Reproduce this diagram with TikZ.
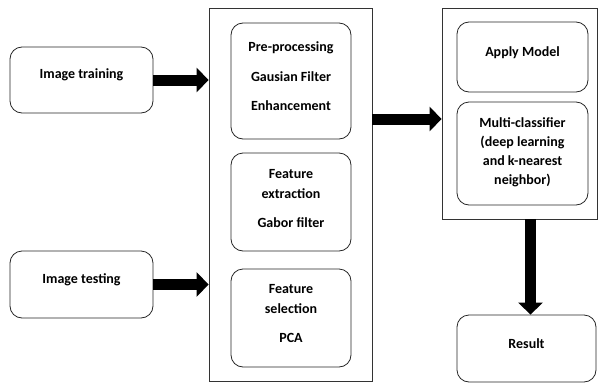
\documentclass[tikz,border=0pt]{standalone}
\usepackage{fontspec}
\setmainfont{Carlito}
\usetikzlibrary{arrows.meta}
\begin{document}
\begin{tikzpicture}[x=1pt,y=-1pt,
  rbox/.style={draw=black!85,line width=0.8pt,rounded corners=12pt,inner sep=0pt},
  cont/.style={draw=black!80,line width=0.8pt,inner sep=0pt},
  lbl/.style={font=\fontsize{14}{16}\selectfont\bfseries,inner sep=0pt,anchor=center},
  bigarrow/.style={line width=11pt,-{Triangle[length=12pt,width=24pt]}}
]
\useasboundingbox (0,0) rectangle (598,383);
% left boxes
\node[rbox,minimum width=143pt,minimum height=66pt] (train) at (81.5,80) {};
\node[rbox,minimum width=143pt,minimum height=67pt] (test) at (81.5,284.5) {};
% middle container
\node[cont,minimum width=163pt,minimum height=373pt] (mid) at (290.5,194.5) {};
\node[rbox,minimum width=120pt,minimum height=116pt] (pre) at (291,81) {};
\node[rbox,minimum width=120pt,minimum height=98pt] (fext) at (291,202) {};
\node[rbox,minimum width=120pt,minimum height=98pt] (fsel) at (291,318) {};
% right container
\node[cont,minimum width=155pt,minimum height=211pt] (right) at (519.5,113.5) {};
\node[rbox,minimum width=131pt,minimum height=70pt] (apply) at (522.5,57) {};
\node[rbox,minimum width=131pt,minimum height=103pt] (multi) at (522.5,153.5) {};
\node[rbox,minimum width=139pt,minimum height=67pt] (result) at (526.5,348.5) {};
% labels
\node[lbl] (t1) at (81.5,75) {Image training};
\node[lbl] (t2) at (81.5,280) {Image testing};
\node[lbl] (p1) at (291,48) {Pre-processing};
\node[lbl] (p2) at (291,77) {Gausian Filter};
\node[lbl] (p3) at (291,106) {Enhancement};
\node[lbl] (e1) at (291,174) {Feature};
\node[lbl] (e2) at (291,194) {extraction};
\node[lbl] (e3) at (291,223) {Gabor filter};
\node[lbl] (s1) at (291,289) {Feature};
\node[lbl] (s2) at (291,309) {selection};
\node[lbl] (s3) at (291,338) {PCA};
\node[lbl] (a1) at (522.5,53) {Apply Model};
\node[lbl] (m1) at (522.5,123) {Multi-classifier};
\node[lbl] (m2) at (522.5,142) {(deep learning};
\node[lbl] (m3) at (522.5,161) {and k-nearest};
\node[lbl] (m4) at (522.5,180) {neighbor)};
\node[lbl] (r1) at (526.5,344) {Result};
% arrows
\draw[bigarrow] (train.east) -- (train.east -| mid.west);
\draw[bigarrow] (test.east) -- (test.east -| mid.west);
\draw[bigarrow] (mid.east |- 0,119) -- (right.west |- 0,119);
\draw[bigarrow] (right.south -| 530.5,0) -- (result.north -| 530.5,0);
\end{tikzpicture}
\end{document}
